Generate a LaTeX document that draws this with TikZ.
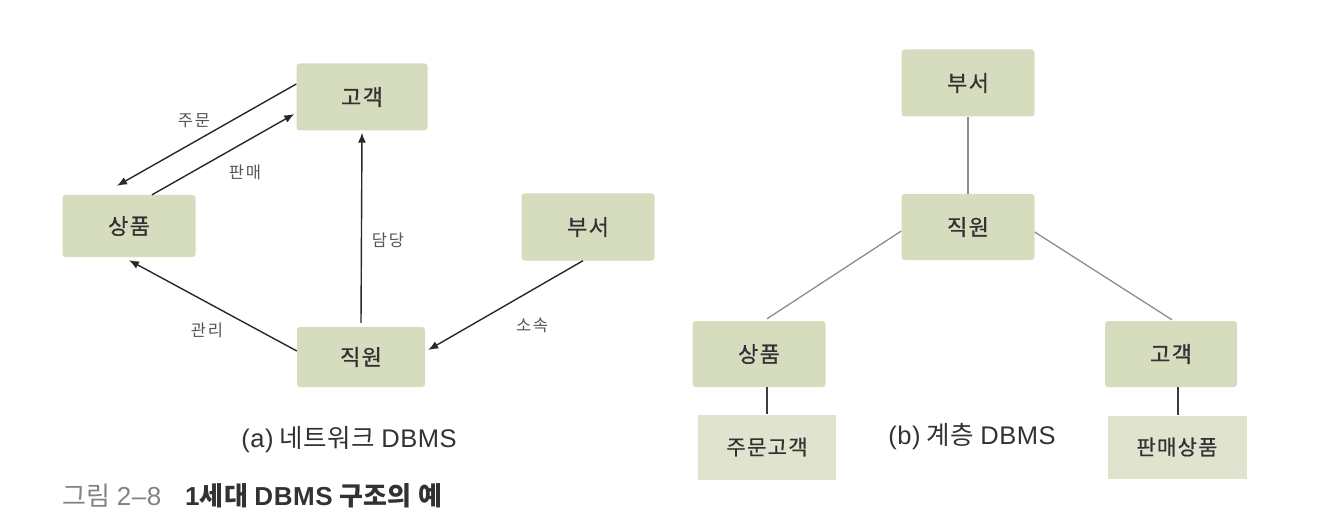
\documentclass[tikz,border=0pt]{standalone}
\usepackage{fontspec}
\setmainfont{Noto Sans CJK KR}
\newfontfamily\kr{Noto Sans CJK KR}[LetterSpace=6, FakeBold=0.6]
\newfontfamily\krl{Noto Sans CJK KR}[LetterSpace=10]
\newfontfamily\krc{Noto Sans CJK KR}[LetterSpace=2]
\newfontfamily\latfam{Liberation Sans}[LetterSpace=2]
\newcommand\latn[1]{{\latfam #1}}
\usetikzlibrary{arrows.meta}
\definecolor{boxfill}{RGB}{214,220,190}
\definecolor{leaffill}{RGB}{224,228,207}
\definecolor{txt}{RGB}{50,50,50}
\definecolor{lbl}{RGB}{85,85,85}
\definecolor{arr}{RGB}{40,40,40}
\definecolor{tree}{RGB}{140,140,140}
\definecolor{stem}{RGB}{60,60,60}
\definecolor{figgray}{RGB}{130,130,130}
\tikzset{
  ent/.style={fill=boxfill, rounded corners=3pt, inner sep=0pt, text=txt, font=\kr\fontsize{22}{24}\selectfont},
  leaf/.style={fill=leaffill, inner sep=0pt, text=txt, font=\kr\fontsize{21}{24}\selectfont},
  rel/.style={draw=arr, line width=1.4pt, -{Latex[length=10pt,width=8pt]}},
  tl/.style={draw=tree, line width=1.3pt},
  sl/.style={draw=stem, line width=1.3pt},
  elbl/.style={text=lbl, font=\krl\fontsize{16.5}{18}\selectfont},
  captext/.style={text=txt, font=\krc\fontsize{25.5}{28}\selectfont}
}
\begin{document}
\begin{tikzpicture}[x=1pt,y=-1pt]
\useasboundingbox (0,0) rectangle (1318,524);
% (a) network
\node[ent, minimum width=131pt, minimum height=67pt] (goA) at (362,97) {고객};
\node[ent, minimum width=133pt, minimum height=62pt] (saA) at (129,226) {상품};
\node[ent, minimum width=133pt, minimum height=67pt] (buA) at (588,227) {부서};
\node[ent, minimum width=128pt, minimum height=60pt] (jiA) at (361,357) {직원};

\draw[rel] ([yshift=13pt]goA.west) -- ([xshift=-12pt,yshift=9pt]saA.north);
\draw[rel] ([xshift=23pt]saA.north) -- ([xshift=-2pt,yshift=-17pt]goA.west);
\draw[rel] ([yshift=4pt]jiA.north) -- ([yshift=-2pt]goA.south);
\draw[rel] ([yshift=6pt]jiA.west) -- ([yshift=-3pt]saA.south);
\draw[rel] ([xshift=-5pt]buA.south) -- ([xshift=3pt,yshift=7pt]jiA.east);

\node[elbl] (l1) at (194,121) {주문};
\node[elbl] (l2) at (245,172) {판매};
\node[elbl] (l3) at (388,240) {담당};
\node[elbl] (l4) at (207,330) {관리};
\node[elbl] (l5) at (532,325) {소속};

\node[captext] (capA) at (349,440) {\latn{(a)} 네트워크 \latn{DBMS}};

% (b) hierarchy
\node[ent, minimum width=133pt, minimum height=67pt] (buB) at (968,83) {부서};
\node[ent, minimum width=133pt, minimum height=66pt] (jiB) at (968,227) {직원};
\node[ent, minimum width=133pt, minimum height=66pt] (saB) at (759,354) {상품};
\node[ent, minimum width=132pt, minimum height=66pt] (goB) at (1171,354) {고객};
\node[leaf, minimum width=138pt, minimum height=65pt] (jgB) at (767,447) {주문고객};
\node[leaf, minimum width=139pt, minimum height=63pt] (psB) at (1177,447) {판매상품};

\draw[tl] (buB.south) -- (jiB.north);
\draw[tl] ([yshift=-4pt]jiB.west) -- ([xshift=8pt,yshift=2pt]saB.north);
\draw[tl] ([yshift=-5pt]jiB.east) -- ([xshift=1pt,yshift=1pt]goB.north);
\draw[sl] ([xshift=8pt]saB.south) -- (jgB.north);
\draw[sl] ([xshift=7pt]goB.south) -- ([xshift=1pt]psB.north);

\node[captext] (capB) at (972,437) {\latn{(b)} 계층 \latn{DBMS}};

% figure caption
\node[anchor=base west, inner sep=0pt, text=figgray, font=\krc\fontsize{26}{28}\selectfont] (fig) at (62,505) {그림 \latn{2–8}};
\node[anchor=base west, inner sep=0pt, text=txt, font=\krc\bfseries\fontsize{26}{28}\selectfont] (figt) at (185,505) {\latn{1}세대 \latn{DBMS} 구조의 예};
\end{tikzpicture}
\end{document}
